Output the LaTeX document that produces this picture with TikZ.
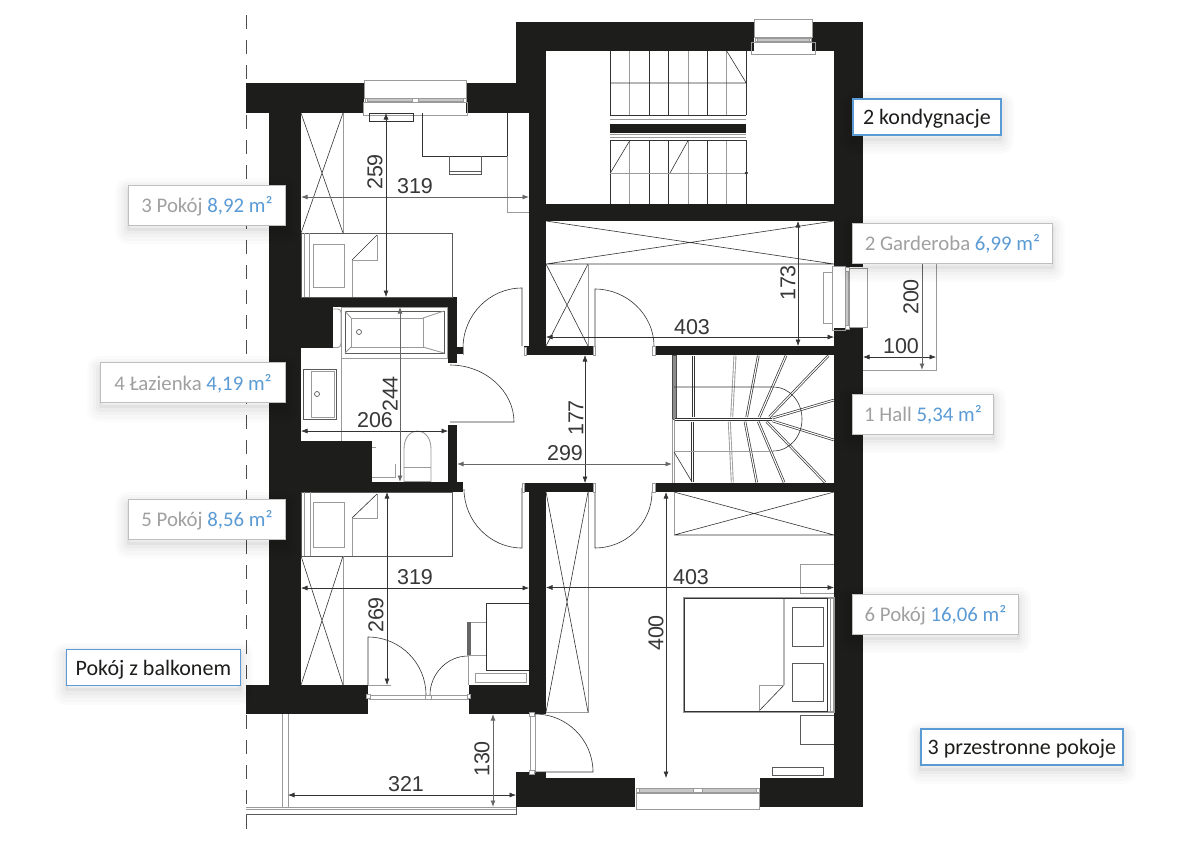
\documentclass[tikz,border=0pt]{standalone}
\usepackage{fontspec}
\setmainfont{Carlito}
\newfontfamily\dimfont{Liberation Sans}
\usetikzlibrary{arrows.meta}
\definecolor{wallc}{HTML}{1D1D1B}
\definecolor{linec}{HTML}{333333}
\definecolor{grayc}{HTML}{9A9A9A}
\definecolor{bluec}{HTML}{5B9BD5}
\definecolor{graytext}{HTML}{A0A0A0}
\tikzset{
  wall/.style={fill=wallc},
  thin line/.style={draw=linec,line width=.6pt},
  soft line/.style={draw=grayc,line width=.9pt},
  mid line/.style={draw=black!65,line width=.7pt},
  frame line/.style={draw=grayc,line width=.7pt,fill=black!22},
  tread/.style={draw=linec,line width=.7pt,double=white,double distance=1.1pt},
  treadg/.style={draw=grayc,line width=.9pt,double=white,double distance=1.1pt},
  dimline/.style={draw=linec,line width=.6pt,{Latex[length=6.5pt,width=5pt]}-{Latex[length=6.5pt,width=5pt]}},
  dimlineg/.style={draw=black!60,line width=.9pt,{Latex[length=6.5pt,width=5pt]}-{Latex[length=6.5pt,width=5pt]}},
  dimtext/.style={font=\dimfont\fontsize{21.5}{21.5}\selectfont,text=black!78,inner sep=0pt},
  shadowed/.style={
    preaction={draw=black,opacity=.014,line width=26pt,line join=round,transform canvas={yshift=-6pt}},
    preaction={draw=black,opacity=.016,line width=20pt,line join=round,transform canvas={yshift=-6pt}},
    preaction={draw=black,opacity=.02,line width=14pt,line join=round,transform canvas={yshift=-5pt}},
    preaction={draw=black,opacity=.025,line width=8pt,line join=round,transform canvas={yshift=-5pt}},
    preaction={draw=black,opacity=.04,line width=3pt,line join=round,transform canvas={yshift=-4pt}}},
  roomlabel/.style={shadowed,draw=black!25,line width=.9pt,fill=white,anchor=west,text=graytext,
    font=\fontsize{20.8}{20.8}\selectfont,inner sep=0pt,minimum height=40pt,text height=15pt,text depth=0pt},
  taglabel/.style={shadowed,draw=bluec,line width=1.8pt,fill=white,anchor=west,text=wallc,
    font=\fontsize{22}{22}\selectfont,inner sep=0pt,minimum height=36pt,text height=15pt,text depth=0pt}
}
\newcommand{\bl}[1]{\textcolor{bluec}{#1}}
\begin{document}
\begin{tikzpicture}[x=1pt,y=-1pt]
\useasboundingbox (0,0) rectangle (1182,847);
\fill[white] (0,0) rectangle (1182,847);
% axis
\draw[black!70,line width=.9pt,dash pattern=on 14pt off 11pt] (246.5,15) -- (246.5,835);
% balcony
\draw[soft line] (282,714) -- (282,807) (288,714) -- (288,807);
\draw[soft line] (246,807) -- (516,807) (246,809.5) -- (516,809.5);
\draw[mid line] (246,814) -- (516,814) -- (516,807);
% walls
\fill[wall] (246,83) rectangle (364,113);
\fill[wall] (466,83) rectangle (546,113);
\fill[wall] (516,22) rectangle (754,51);
\fill[wall] (812,22) rectangle (863,51);
\fill[wall] (516,51) rectangle (546,113);
\fill[wall] (834,51) rectangle (863,267);
\fill[wall] (529,113) rectangle (546,355);
\fill[wall] (546,204) rectangle (834,221);
\fill[wall] (524,346) rectangle (593,355);
\fill[wall] (655,346) rectangle (834,355);
\fill[wall] (834,328) rectangle (863,807);
\fill[wall] (269,113) rectangle (301,685);
\fill[wall] (301,297) rectangle (457,307);
\fill[wall] (301,307) rectangle (333,348);
\fill[wall] (448,307) rectangle (457,363);
\fill[wall] (448,347) rectangle (463,354);
\fill[wall] (448,425) rectangle (457,482);
\fill[wall] (301,441) rectangle (372,482);
\fill[wall] (301,482) rectangle (463,492);
\fill[wall] (524,483) rectangle (593,492);
\fill[wall] (655,483) rectangle (834,492);
\fill[wall] (529,492) rectangle (546,713);
\fill[wall] (246,685) rectangle (368,714);
\fill[wall] (469,685) rectangle (546,714);
\fill[wall] (516,772) rectangle (546,807);
\fill[wall] (516,778) rectangle (635,807);
\fill[wall] (760,778) rectangle (863,807);
% window top left
\draw[soft line] (364,80) rectangle (466,98);
\draw[frame line] (367,98.5) rectangle (412,101.5) (418,98.5) rectangle (463,101.5);
\draw[soft line,fill=white] (365,98) rectangle (367,102) (412,98) rectangle (418,102) (463,98) rectangle (466,102);
\draw[soft line] (363,102) rectangle (467.5,115);
\draw[thin line] (369,113) rectangle (413,121);
% window stair
\draw[soft line] (754,19) rectangle (812,37);
\draw[frame line] (757,38.5) rectangle (809,41);
\draw[soft line,fill=white] (755,38) rectangle (757,41.5) (809,38) rectangle (811,41.5);
\draw[soft line] (751,42) rectangle (815,54);
% window garderoba
\draw[soft line] (849,268) rectangle (867,327);
\draw[frame line] (845.5,271) rectangle (848.5,325);
\draw[soft line,fill=white] (845,267) rectangle (849,271) (845,325) rectangle (849,329);
\draw[soft line] (832,266) rectangle (845,330);
\draw[soft line] (823,272) rectangle (832,323);
% window room 6
\draw[soft line] (636,793) rectangle (759,809);
\draw[frame line] (639,788.5) rectangle (693,792) (702,788.5) rectangle (756,792);
\draw[soft line,fill=white] (636,788) rectangle (639,792) (693,788) rectangle (702,792) (756,788) rectangle (759,792);
% window room 5
\draw[soft line] (369,695) rectangle (425,699);
\draw[soft line] (431,695) rectangle (468,699);
\draw[soft line,fill=white] (366,694) rectangle (370,698) (425,695) rectangle (431,699) (467,694) rectangle (470,698);
\draw[soft line] (530,714) rectangle (535,772);
\draw[soft line,fill=white] (529,712) rectangle (534,716) (529,770) rectangle (534,774);
% room 3 wardrobe
\draw[soft line] (343,113) -- (343,233);
\draw[thin line] (301,113) -- (343,233) (343,113) -- (301,233);
% room 3 bed
\draw[mid line] (301,233) rectangle (452,297);
\draw[soft line] (304,233) -- (304,297) (309,233) -- (309,297);
\draw[soft line] (313,244) rectangle (344,287);
\draw[soft line] (352,297) -- (352,260) -- (377,260) -- (377,235);
\draw[thin line] (377,235) -- (352,260);
% room 3 desk
\draw[thin line] (422,113) -- (422,156) -- (507,156) -- (507,113);
\draw[mid line] (449,156) -- (449,174) -- (481,174) -- (481,156) (449,171) -- (481,171);
\draw[soft line] (507,156) -- (507,212) -- (529,212);
% stairs upper
\draw[thin line] (610.3,51) -- (610.3,204) (649.3,51) -- (649.3,204) (668.3,51) -- (668.3,204) (707.3,51) -- (707.3,204) (746.3,51) -- (746.3,204);
\draw[soft line] (629.7,51) -- (629.7,204) (688,51) -- (688,204) (726.7,51) -- (726.7,204);
\draw[thin line] (610,83) -- (746,83) (726.7,51) -- (746.3,83);
\fill[white] (610,115) rectangle (747,140);
\draw[thin line] (610,115) -- (746,115) (610,140) -- (746,140);
\draw[soft line] (610,119) -- (746,119) (610,134) -- (746,134) (610,137) -- (746,137);
\fill[wall] (610,123.5) rectangle (746,133);
\draw[thin line] (629.7,140.7) -- (610.3,173) (688,140.7) -- (670,173);
\draw[soft line] (610,173) -- (746,173);
\fill[linec] (746.3,173) circle (1.8);
% garderoba
\draw[thin line] (546,221) -- (834,264) (546,264) -- (834,221) (546,264) -- (834,264);
\draw[thin line] (546,264) -- (588,346) (588,264) -- (546,346);
\draw[soft line] (588,264) -- (588,346);
\draw[thin line] (595,346) -- (595,289) .. controls (627,289) and (654,315) .. (654,346);
% bathroom
\draw[soft line] (341,307) rectangle (447,358);
\draw[mid line] (345,311) rectangle (444,353);
\draw[soft line] (351,318) rectangle (423,347);
\draw[soft line] (345,311) -- (351,318) (345,353) -- (351,347) (444,311) -- (423,318) (444,353) -- (423,347);
\draw[mid line] (359,332) circle (2.5);
\draw[soft line] (333,309) -- (338,309) .. controls (340,309) and (341,311) .. (341,313) -- (341,343) .. controls (341,346) and (340,347) .. (338,347.5) -- (333,347.5);
\draw[soft line] (341,358) -- (341,441);
\draw[mid line] (303,369) rectangle (336,419);
\draw[soft line] (311,371) rectangle (334,417);
\draw[mid line] (317,394) circle (2.5);
\draw[soft line] (404,482) -- (404,449) .. controls (404,425) and (431,425) .. (431,449) -- (431,482);
\draw[soft line] (404,467) -- (431,467) (404,481) -- (431,481);
\draw[soft line] (395,464) -- (395,477) -- (372,477) (372,447) -- (376,447);
\draw[thin line] (522,346) -- (522,288) .. controls (489.5,288) and (463,315) .. (463,348);
\draw[thin line] (450,365) .. controls (485,365) and (514,391) .. (514,422) -- (450,422);
\draw[thin line] (464,489) .. controls (464,521) and (490,548) .. (522,548) -- (522,488);
\draw[thin line] (652,492) .. controls (652,523) and (626,548) .. (595,548) -- (595,488);
% hall stair
\draw[black!70,line width=1pt,fill=black!45] (672,355) rectangle (676.5,419);
\draw[soft line] (672,419) -- (672,483) (674,419) -- (674,483);
\draw[tread] (675,419.5) -- (772,419.5);
\draw[tread] (693.3,417) -- (693.3,355.7);
\draw[treadg] (713,417) -- (713,355.7);
\draw[treadg] (731.7,417) -- (735,355.7);
\draw[tread] (746.7,417) -- (758.3,355.7);
\draw[tread] (759.3,417) -- (786,355.7);
\draw[tread] (769.3,417) -- (828.3,355.7);
\draw[tread] (772.7,418) -- (834,400);
\draw[tread] (772.7,421) -- (834,440);
\draw[tread] (766.7,421.7) -- (825,482.3);
\draw[tread] (758.3,421.7) -- (784,482.3);
\draw[tread] (745,421.7) -- (756.7,482.3);
\draw[treadg] (729.3,421.7) -- (732.3,482.3);
\draw[tread] (711,421.7) -- (711,482.3);
\draw[tread] (692.3,421.7) -- (692.3,482.3);
\draw[thin line] (674,387) -- (773,387) .. controls (790,387) and (802,402) .. (802,419) .. controls (802,436) and (790,451) .. (773,451);
\draw[soft line] (674,451) -- (773,451);
\draw[thin line] (674,452) -- (692,482);
% hall wardrobe
\draw[thin line] (674,492) -- (834,535) (674,535) -- (834,492) (674,535) -- (834,535);
\draw[soft line] (674,492) -- (674,535);
% room 6
\draw[soft line] (588,492) -- (588,712) -- (546,712);
\draw[thin line] (546,492) -- (588,712) (588,492) -- (546,712);
\draw[soft line] (800,593) -- (800,564) -- (834,564) (800,593) -- (834,593);
\draw[soft line,line width=1.6pt] (684,598) rectangle (834,712);
\draw[thin line] (684,598) rectangle (827,711);
\draw[soft line] (830.5,598) -- (830.5,712);
\draw[thin line] (784,598) -- (784,685) -- (759,711);
\draw[soft line] (784,685) -- (759,685) -- (759,711);
\draw[mid line] (792,607) rectangle (823,646) (792,663) rectangle (823,701);
\draw[mid line] (834,715) -- (800,715) -- (800,744) -- (834,744);
\draw[mid line] (772,767) rectangle (823,775);
\draw[thin line] (535,772) -- (593,772) .. controls (593,740) and (567,714) .. (535,714);
% room 5
\draw[mid line] (301,492) rectangle (452.7,556);
\draw[soft line] (304,492) -- (304,556) (310,492) -- (310,556);
\draw[soft line] (313,502) rectangle (344,547);
\draw[soft line] (352,556) -- (352,518) -- (377,518) -- (377,494);
\draw[thin line] (377,494) -- (352,518);
\draw[soft line] (343,556) -- (343,685);
\draw[thin line] (301,556) -- (343,685) (343,556) -- (301,685);
\draw[soft line] (368,685) -- (391,685);
\draw[thin line] (368,685) -- (368,637) .. controls (400,637) and (426,663) .. (426,695);
\draw[thin line] (468,656) .. controls (447,656) and (430,674) .. (430,695);
\draw[soft line] (468,656) -- (468,685);
\draw[thin line] (529,603) -- (486,603) -- (486,670) -- (529,670);
\draw[soft line] (486,622) -- (467,622) -- (467,655) -- (486,655);
\fill[black!60] (467,622) rectangle (471,655);
\draw[soft line] (475,673) rectangle (526,682);
% jambs
\draw[soft line,fill=white] (593,346) rectangle (595.5,355) (652.5,346) rectangle (655,355) (593,483) rectangle (595.5,492) (652.5,483) rectangle (655,492) (524,347) rectangle (526,355) (522,483) rectangle (524.5,492) (463,347) rectangle (463.5,354);
% tail lines for dims
\draw[soft line] (936,263) -- (936,370) -- (863,370);
% dimensions
\coordinate (d1a) at (301,197); \coordinate (d1b) at (529,197);
\draw[dimlineg] (d1a) -- (d1b);
\node[dimtext] (t319a) at (415,186) {319};
\coordinate (d2a) at (386,113); \coordinate (d2b) at (386,297);
\draw[dimline] (d2a) -- (d2b);
\node[dimtext,rotate=90] (t259) at (375,172) {259};
\coordinate (d3a) at (546,337); \coordinate (d3b) at (834,337);
\draw[dimline] (d3a) -- (d3b);
\node[dimtext] (t403a) at (692,327) {403};
\coordinate (d4a) at (798,221); \coordinate (d4b) at (798,346);
\draw[dimline] (d4a) -- (d4b);
\node[dimtext,rotate=90] (t173) at (788,283) {173};
\coordinate (d5a) at (863,357); \coordinate (d5b) at (936,357);
\draw[dimline] (d5a) -- (d5b);
\node[dimtext] (t100) at (901,346) {100};
\draw[draw=black!60,line width=.9pt,-{Latex[length=6.5pt,width=5pt]}] (922,263) -- (922,370);
\node[dimtext,rotate=90] (t200) at (911,297) {200};
\coordinate (d6a) at (301,431); \coordinate (d6b) at (448,431);
\draw[dimline] (d6a) -- (d6b);
\node[dimtext] (t206) at (375,420) {206};
\coordinate (d7a) at (400,307); \coordinate (d7b) at (400,482);
\draw[dimlineg] (d7a) -- (d7b);
\node[dimtext,rotate=90] (t244) at (390,394) {244};
\coordinate (d8a) at (585,355); \coordinate (d8b) at (585,483);
\draw[dimline] (d8a) -- (d8b);
\node[dimtext,rotate=90] (t177) at (576,418) {177};
\coordinate (d9a) at (457,464); \coordinate (d9b) at (672,464);
\draw[dimlineg] (d9a) -- (d9b);
\node[dimtext] (t299) at (565,453) {299};
\coordinate (d10a) at (301,588); \coordinate (d10b) at (529,588);
\draw[dimline] (d10a) -- (d10b);
\node[dimtext] (t319b) at (415,577) {319};
\coordinate (d11a) at (387,492); \coordinate (d11b) at (387,685);
\draw[dimline] (d11a) -- (d11b);
\node[dimtext,rotate=90] (t269) at (376,615) {269};
\coordinate (d12a) at (546,587.5); \coordinate (d12b) at (834,587.5);
\draw[dimline] (d12a) -- (d12b);
\node[dimtext] (t403b) at (691,577) {403};
\coordinate (d13a) at (666,492); \coordinate (d13b) at (666,778);
\draw[dimline] (d13a) -- (d13b);
\node[dimtext,rotate=90] (t400) at (656,633) {400};
\coordinate (d14a) at (288,795); \coordinate (d14b) at (516,795);
\draw[dimline] (d14a) -- (d14b);
\node[dimtext] (t321) at (406,784) {321};
\coordinate (d15a) at (493,714); \coordinate (d15b) at (493,807);
\draw[dimlineg] (d15a) -- (d15b);
\draw[soft line] (488,807) -- (502,807);
\node[dimtext,rotate=90] (t130) at (482,759) {130};
% labels
\node[roomlabel,minimum width=157pt] (lab3) at (128,205) {3 Pokój \bl{8,92 m²}};
\node[roomlabel,minimum width=200pt] (lab2) at (852,243) {2 Garderoba \bl{6,99 m²}};
\node[roomlabel,minimum width=141pt] (lab1) at (852,414) {1 Hall \bl{5,34 m²}};
\node[roomlabel,minimum width=185pt] (lab4) at (100,382.5) {4 Łazienka \bl{4,19 m²}};
\node[roomlabel,minimum width=157pt] (lab5) at (128,519) {5 Pokój \bl{8,56 m²}};
\node[roomlabel,minimum width=166pt] (lab6) at (852,614) {6 Pokój \bl{16,06 m²}};
\node[taglabel,minimum width=148pt] (tag1) at (852,117) {2 kondygnacje};
\node[taglabel,minimum width=174pt] (tag2) at (65.5,667.5) {Pokój z balkonem};
\node[taglabel,minimum width=202pt] (tag3) at (920,747) {3 przestronne pokoje};
\end{tikzpicture}
\end{document}
